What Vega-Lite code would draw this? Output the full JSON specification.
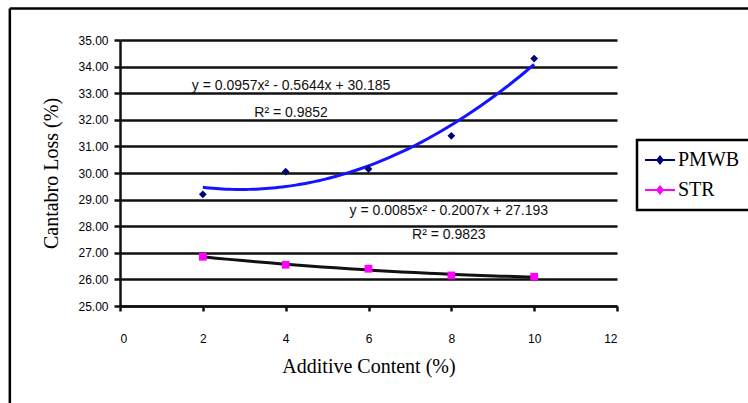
{
  "$schema": "https://vega.github.io/schema/vega-lite/v6.json",
  "width": 497,
  "height": 266,
  "autosize": "none",
  "padding": {"left": 120, "top": 40, "right": 131, "bottom": 97},
  "background": "white",
  "config": {"view": {"stroke": null}, "font": "Liberation Sans", "legend": {"strokeWidth": 2.5}},
  "datasets": {
    "points": [
      {"series": "PMWB", "content": 2, "loss": 29.2},
      {"series": "PMWB", "content": 4, "loss": 30.05},
      {"series": "PMWB", "content": 6, "loss": 30.15},
      {"series": "PMWB", "content": 8, "loss": 31.4},
      {"series": "PMWB", "content": 10, "loss": 34.3},
      {"series": "STR", "content": 2, "loss": 26.85},
      {"series": "STR", "content": 4, "loss": 26.55},
      {"series": "STR", "content": 6, "loss": 26.4},
      {"series": "STR", "content": 8, "loss": 26.15},
      {"series": "STR", "content": 10, "loss": 26.1}
    ],
    "notes": [
      {"content": 4.13, "loss": 33.27, "label": "y = 0.0957x² - 0.5644x + 30.185"},
      {"content": 4.13, "loss": 32.26, "label": "R² = 0.9852"},
      {"content": 7.94, "loss": 28.57, "label": "y = 0.0085x² - 0.2007x + 27.193"},
      {"content": 7.94, "loss": 27.67, "label": "R² = 0.9823"}
    ],
    "frame": [
      {"content": -2.66, "content2": 16, "loss": 36.18, "loss2": 20}
    ]
  },
  "encoding": {
    "x": {
      "field": "content",
      "type": "quantitative",
      "scale": {"domain": [0, 12], "nice": false, "zero": false},
      "axis": {
        "title": "Additive Content (%)",
        "titleFont": "Liberation Serif",
        "titleFontSize": 20,
        "titleFontWeight": "normal",
        "titleColor": "black",
        "titlePadding": 12,
        "values": [0, 2, 4, 6, 8, 10, 12],
        "labelFontSize": 12,
        "labelColor": "black",
        "labelPadding": 22,
        "tickSize": 5,
        "tickWidth": 2.5,
        "tickColor": "#111",
        "domainColor": "#111",
        "domainWidth": 2.5,
        "grid": false
      }
    },
    "y": {
      "field": "loss",
      "type": "quantitative",
      "scale": {"domain": [25, 35], "nice": false, "zero": false},
      "axis": {
        "title": "Cantabro Loss (%)",
        "titleFont": "Liberation Serif",
        "titleFontSize": 20,
        "titleFontWeight": "normal",
        "titleColor": "black",
        "titlePadding": 16,
        "values": [25, 26, 27, 28, 29, 30, 31, 32, 33, 34, 35],
        "format": ".2f",
        "labelFontSize": 12,
        "labelColor": "black",
        "labelPadding": 6,
        "tickSize": 6,
        "tickWidth": 2.5,
        "tickColor": "#111",
        "domainColor": "#111",
        "domainWidth": 2.5,
        "grid": true,
        "gridColor": "#111",
        "gridWidth": 2.5,
        "gridOpacity": 1
      }
    }
  },
  "layer": [
    {
      "data": {"name": "frame"},
      "mark": {"type": "rule", "color": "black", "strokeWidth": 2.5, "clip": false},
      "encoding": {
        "y2": {"field": "loss2"}
      }
    },
    {
      "data": {"name": "frame"},
      "mark": {"type": "rule", "color": "black", "strokeWidth": 2.5, "clip": false},
      "encoding": {
        "x2": {"field": "content2"}
      }
    },
    {
      "data": {"name": "points"},
      "transform": [
        {"filter": "datum.series === 'PMWB'"},
        {"regression": "loss", "on": "content", "method": "poly", "order": 2}
      ],
      "mark": {"type": "line", "color": "#1414ff", "strokeWidth": 3}
    },
    {
      "data": {"name": "points"},
      "transform": [
        {"filter": "datum.series === 'STR'"},
        {"regression": "loss", "on": "content", "method": "poly", "order": 2}
      ],
      "mark": {"type": "line", "color": "#111111", "strokeWidth": 3}
    },
    {
      "data": {"name": "points"},
      "transform": [{"filter": "datum.series === 'PMWB'"}],
      "mark": {"type": "point", "shape": "diamond", "filled": true, "size": 60, "opacity": 1},
      "encoding": {
        "color": {
          "field": "series",
          "type": "nominal",
          "scale": {"domain": ["PMWB", "STR"], "range": ["#00007a", "#ff00ff"]},
          "legend": {
            "title": null,
            "orient": "none",
            "legendX": 517,
            "legendY": 100,
            "padding": 10,
            "strokeColor": "black",
            "fillColor": "white",
            "labelFont": "Liberation Serif",
            "labelFontSize": 20,
            "labelColor": "black",
            "labelOffset": 8,
            "symbolSize": 100,
            "symbolOffset": 3,
            "rowPadding": 10,
            "symbolType": "M-3,-0.22H3V0.22H-3Z M0,-1L0.8,0L0,1L-0.8,0Z"
          }
        }
      }
    },
    {
      "data": {"name": "points"},
      "transform": [{"filter": "datum.series === 'STR'"}],
      "mark": {"type": "point", "shape": "square", "filled": true, "size": 60, "opacity": 1},
      "encoding": {
        "color": {
          "field": "series",
          "type": "nominal",
          "scale": {"domain": ["PMWB", "STR"], "range": ["#00007a", "#ff00ff"]},
          "legend": {
            "title": null,
            "orient": "none",
            "legendX": 517,
            "legendY": 100,
            "padding": 10,
            "strokeColor": "black",
            "fillColor": "white",
            "labelFont": "Liberation Serif",
            "labelFontSize": 20,
            "labelColor": "black",
            "labelOffset": 8,
            "symbolSize": 100,
            "symbolOffset": 3,
            "rowPadding": 10,
            "symbolType": "M-3,-0.22H3V0.22H-3Z M0,-1L0.8,0L0,1L-0.8,0Z"
          }
        }
      }
    },
    {
      "data": {"name": "notes"},
      "mark": {"type": "text", "fontSize": 14, "color": "#111", "align": "center", "baseline": "middle"},
      "encoding": {
        "text": {"field": "label", "type": "nominal"}
      }
    }
  ]
}
